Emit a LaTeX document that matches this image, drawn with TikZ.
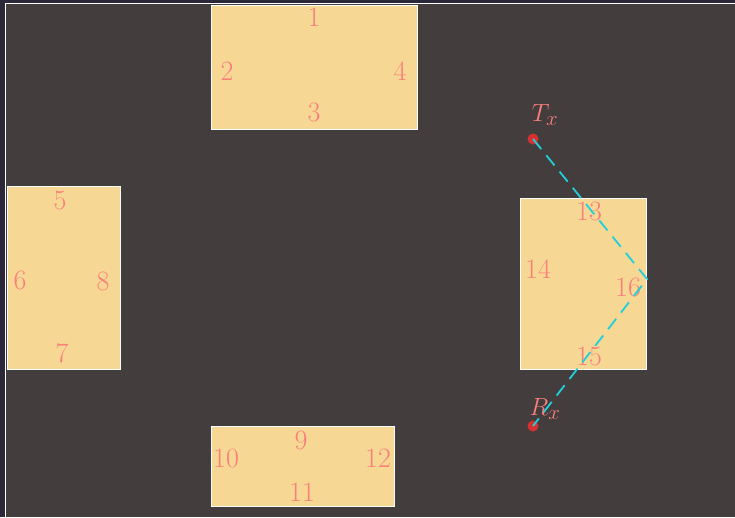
\documentclass[tikz,border=0pt]{standalone}
\usepackage{xcolor}
\definecolor{navy}{HTML}{2A2839}
\definecolor{bg}{HTML}{433D3E}
\definecolor{roomfill}{HTML}{F7D794}
\definecolor{lbl}{HTML}{FA7F7C}
\definecolor{dotred}{HTML}{D63031}
\definecolor{ray}{HTML}{1FD0DB}
\begin{document}
\begin{tikzpicture}[x=1pt,y=-1pt,
  room/.style={draw=white,line width=0.9pt,fill=roomfill,inner sep=0pt},
  num/.style={text=lbl,font=\fontsize{28}{32}\selectfont,inner sep=0pt},
  ant/.style={circle,fill=dotred,inner sep=0pt,minimum size=11pt},
  path/.style={draw=ray,line width=1.8pt,dash pattern=on 13pt off 8pt}]
\useasboundingbox (0,0) rectangle (735,517);
\fill[navy] (0,0) rectangle (735,517);
\fill[bg] (5,3) rectangle (735,517);
\draw[white,line width=1.5pt] (5.5,517) -- (5.5,3.5) -- (735,3.5);
% rooms
\node[room,minimum width=206pt,minimum height=124pt] (A) at (314,67) {};
\node[room,minimum width=113pt,minimum height=183pt] (B) at (63.5,277.5) {};
\node[room,minimum width=183pt,minimum height=80pt] (C) at (302.5,466.5) {};
\node[room,minimum width=126pt,minimum height=171pt] (D) at (583,283.5) {};
% labels
\node[num] (n1) at (314,17) {1};
\node[num] (n2) at (227,71) {2};
\node[num] (n3) at (314,112) {3};
\node[num] (n4) at (400,71) {4};
\node[num] (n5) at (60,200) {5};
\node[num] (n6) at (20,280) {6};
\node[num] (n7) at (62,353) {7};
\node[num] (n8) at (103,281) {8};
\node[num] (n9) at (301,440) {9};
\node[num] (n10) at (226,458) {10};
\node[num] (n11) at (302,492) {11};
\node[num] (n12) at (378,458) {12};
\node[num] (n13) at (589,211) {13};
\node[num] (n14) at (538,269) {14};
\node[num] (n15) at (589,356) {15};
\node[num] (n16) at (628,287) {16};
% antennas
\node[ant] (tx) at (533,139) {};
\node[ant] (rx) at (533,426) {};
\node[num] (txl) at (545,115) {$T_x$};
\node[num] (rxl) at (545,409) {$R_x$};
\coordinate (refl) at (647,279);
\draw[path] (tx.center) -- (refl) -- (rx.center);
\end{tikzpicture}
\end{document}
